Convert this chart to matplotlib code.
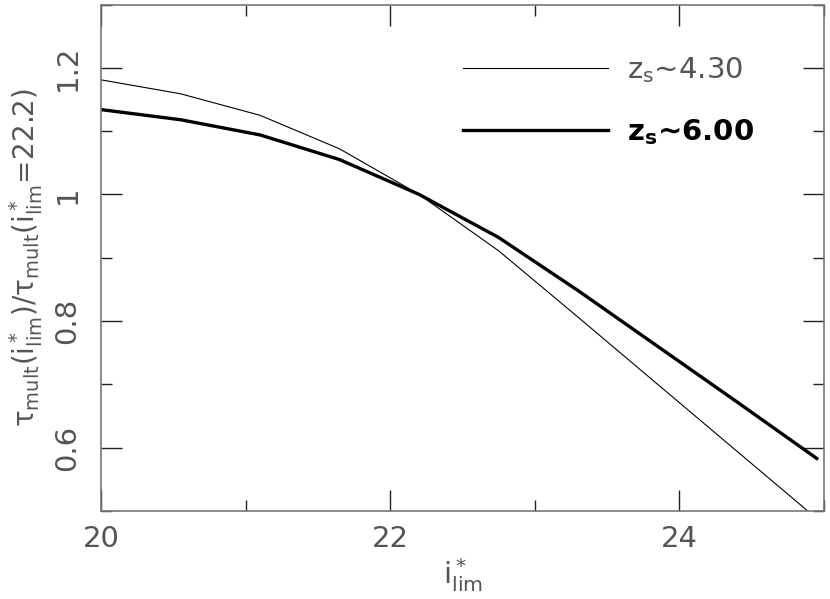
import matplotlib
matplotlib.use("Agg")
import matplotlib.pyplot as plt
from matplotlib.ticker import MultipleLocator

# data
i_lim = [20.0, 20.55, 21.1, 21.65, 22.2, 22.75, 23.3, 23.85, 24.4, 24.95]
ratio_z430 = [1.181, 1.159, 1.125, 1.072, 1.0, 0.911, 0.806, 0.700, 0.594, 0.488]
ratio_z600 = [1.134, 1.118, 1.094, 1.055, 1.0, 0.932, 0.848, 0.760, 0.672, 0.583]
label_z430 = r'z$_\mathregular{s}$∼4.30'
label_z600 = r'z$_\mathbf{s}$∼6.00'

plt.rcParams['mathtext.default'] = 'regular'
txtcol = '#555555'
fs = 21

fig = plt.figure(figsize=(8.3, 5.99), dpi=100)
ax = fig.add_axes([101/830, 1-511/599, (824-101)/830, (511-4.5)/599])

l1, = ax.plot(i_lim, ratio_z430, color='black', lw=0.8, label=label_z430)
l2, = ax.plot(i_lim, ratio_z600, color='black', lw=2.4, label=label_z600)

ax.set_xlim(20, 25)
ax.set_ylim(0.5, 1.3)
ax.xaxis.set_major_locator(MultipleLocator(2))
ax.xaxis.set_minor_locator(MultipleLocator(1))
ax.yaxis.set_major_locator(MultipleLocator(0.2))
ax.yaxis.set_minor_locator(MultipleLocator(0.1))
ax.set_xticks([20, 22, 24])
ax.set_xticklabels(['20', '22', '24'])
ax.set_yticks([0.6, 0.8, 1.0, 1.2])
ax.set_yticklabels(['0.6', '0.8', '1', '1.2'], rotation=90, va='center')

ax.tick_params(which='both', direction='in', top=True, right=True, color='#222222', width=1)
ax.tick_params(which='major', length=15, labelsize=fs, labelcolor=txtcol, pad=10)
ax.tick_params(which='minor', length=8)
ax.tick_params(axis='y', which='major', pad=14)
for s in ax.spines.values():
    s.set_color('#777777')
    s.set_linewidth(1.2)

ax.set_xlabel(r'$i^*_{\rm lim}$', fontsize=fs, color=txtcol, labelpad=2)
ax.set_ylabel(r'$\tau_{\rm mult}(i^*_{\rm lim})/\tau_{\rm mult}(i^*_{\rm lim}\!=\!22.2)$',
              fontsize=20, color=txtcol, labelpad=6)

leg = ax.legend(loc='upper left', bbox_to_anchor=(0.5, 0.90), frameon=False,
                fontsize=fs, handlelength=5.0, handletextpad=0.65, labelspacing=1.12,
                borderpad=0, borderaxespad=0)
texts = leg.get_texts()
texts[0].set_color(txtcol)
texts[1].set_color('black')
texts[1].set_fontweight('bold')

fig.savefig('out.png', dpi=100)
